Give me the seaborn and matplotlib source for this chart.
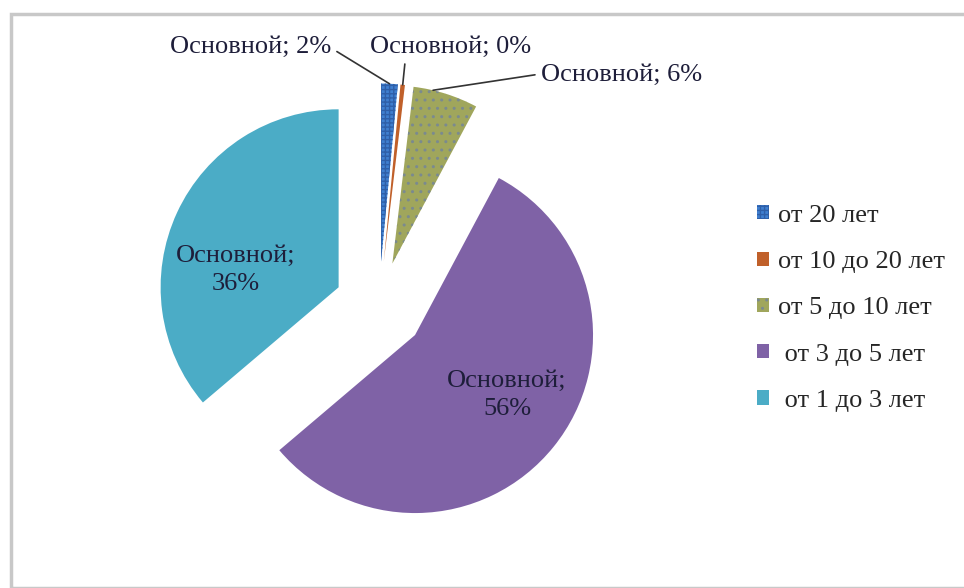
import numpy as np
import matplotlib
matplotlib.use("Agg")
import matplotlib.pyplot as plt
import seaborn as sns

# data
categories = ['от 20 лет', 'от 10 до 20 лет', 'от 5 до 10 лет', ' от 3 до 5 лет', ' от 1 до 3 лет']
shares = [1.5, 0.4, 5.9, 56.0, 36.2]
shown_pct = ['2%', '0%', '6%', '56%', '36%']
series_name = 'Основной'

sns.set_theme(style="white")
plt.rcParams['font.family'] = ['Liberation Serif', 'DejaVu Serif']

colors = ['#3F7FD0', '#C0602A', '#A0A65C', '#7F62A6', '#4BACC6']
explode = [0.25, 0.25, 0.25, 0.26, 0.25]
text_color = '#1e1e3a'

fig = plt.figure(figsize=(9.64, 5.88), dpi=100)
fig.patch.set_facecolor('white')

# light frame like in the scanned figure
frame = plt.Rectangle((11 / 964, 0), 1.0, 1 - 14 / 588, transform=fig.transFigure,
                      fill=False, edgecolor='#c8c8c8', lw=2.5)
fig.add_artist(frame)

ax = fig.add_axes([0, 0, 1, 1])
wedges, _ = ax.pie(shares, colors=colors, explode=explode, startangle=90,
                   counterclock=False, radius=1,
                   wedgeprops=dict(linewidth=0))
wedges[0].set_hatch('++++')
wedges[0].set_edgecolor('#2f5fa8')
wedges[2].set_hatch('..')
wedges[2].set_edgecolor('#7b8a8f')

# pixel layout: centre at (379, 306), radius 178 px
cx, cy, rpx = 379, 306, 178
ax.set_xlim(-cx / rpx, (964 - cx) / rpx)
ax.set_ylim(-(588 - cy) / rpx, cy / rpx)
ax.set_aspect('equal')
ax.axis('off')

fs = 19

def outer_point(w, frac=0.5):
    ang = np.deg2rad(w.theta1 + (w.theta2 - w.theta1) * frac)
    return (w.center[0] + w.r * np.cos(ang), w.center[1] + w.r * np.sin(ang))

line_kw = dict(arrowstyle='-', color='#333333', lw=1.2, shrinkA=2, shrinkB=0)

# outside labels with leader lines
ax.annotate(f'{series_name}; {shown_pct[0]}', xy=outer_point(wedges[0]),
            xytext=(170 / 964, 1 - 47 / 588), textcoords='figure fraction',
            ha='left', va='center', fontsize=fs, color=text_color,
            arrowprops=dict(relpos=(1, 0.45), **line_kw))
ax.annotate(f'{series_name}; {shown_pct[1]}', xy=outer_point(wedges[1]),
            xytext=(370 / 964, 1 - 47 / 588), textcoords='figure fraction',
            ha='left', va='center', fontsize=fs, color=text_color,
            arrowprops=dict(relpos=(0.22, 0), **line_kw))
ax.annotate(f'{series_name}; {shown_pct[2]}', xy=outer_point(wedges[2], 0.7),
            xytext=(541 / 964, 1 - 75 / 588), textcoords='figure fraction',
            ha='left', va='center', fontsize=fs, color=text_color,
            arrowprops=dict(relpos=(0, 0.55), **line_kw))

# inside labels
fig.text(236 / 964, 1 - 270 / 588, f'{series_name};\n{shown_pct[4]}',
         ha='center', va='center', fontsize=fs, linespacing=1.3, color=text_color)
fig.text(507 / 964, 1 - 395 / 588, f'{series_name};\n{shown_pct[3]}',
         ha='center', va='center', fontsize=fs, linespacing=1.3, color=text_color)

ax.legend(wedges, categories, loc='upper left', bbox_to_anchor=(733 / 964, 1 - 181 / 588),
          bbox_transform=fig.transFigure, frameon=False, fontsize=fs,
          handlelength=0.45, handleheight=0.45, handletextpad=0.35, labelspacing=0.92)

fig.savefig('out.png', dpi=100, facecolor='white')
